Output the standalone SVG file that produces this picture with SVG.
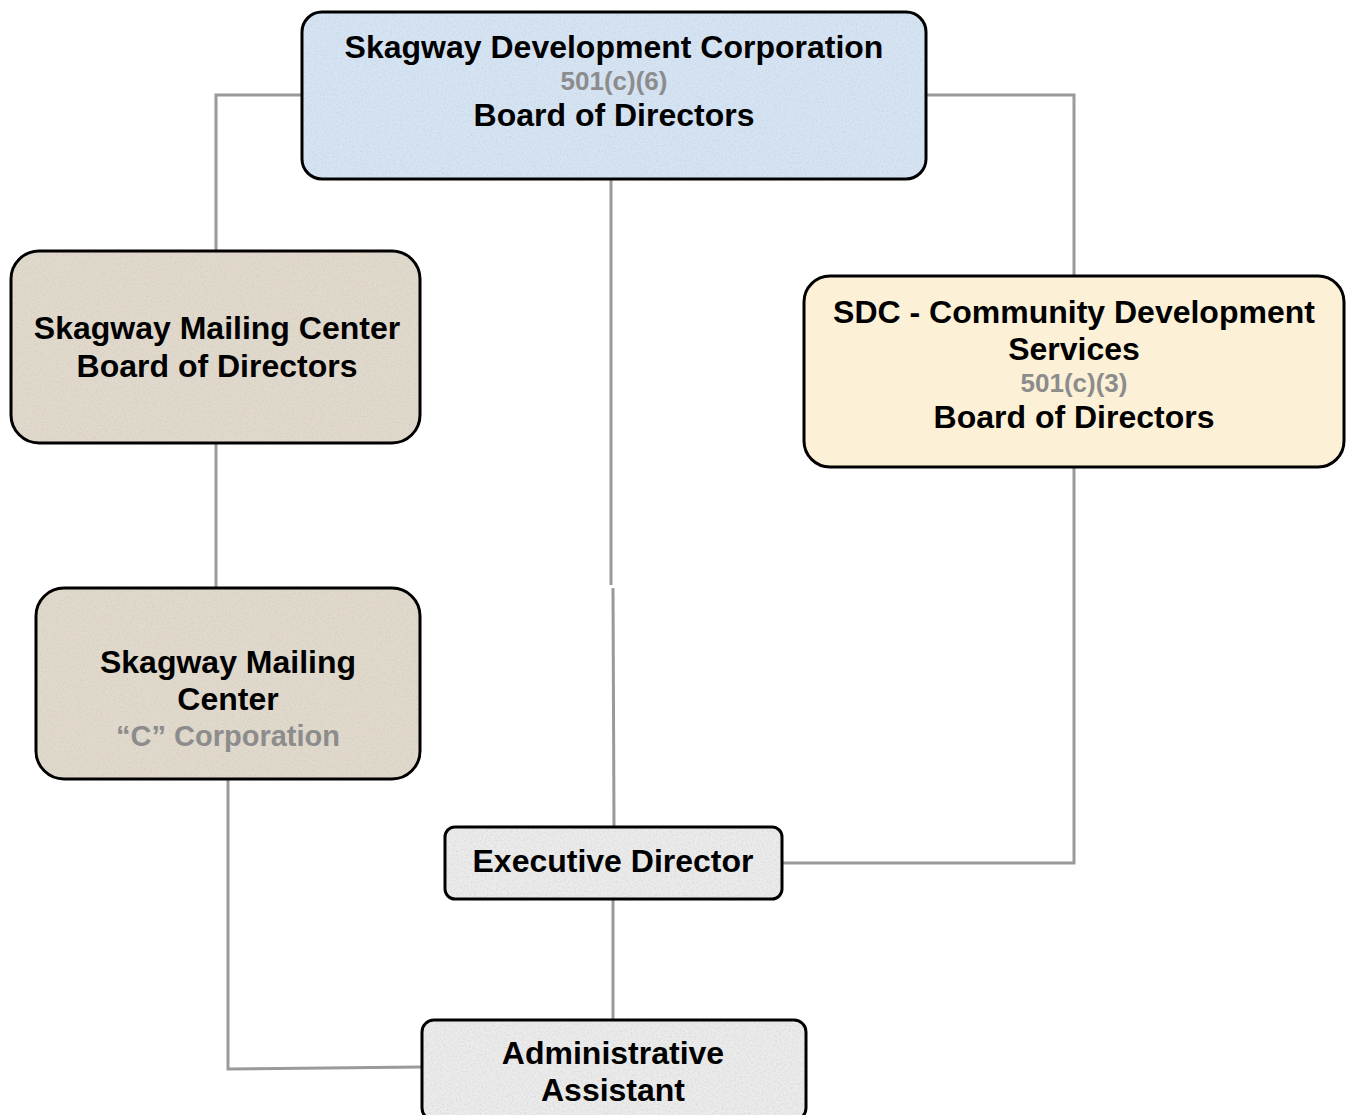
<svg xmlns="http://www.w3.org/2000/svg" width="1351" height="1115" viewBox="0 0 1351 1115">
<defs>
<filter id="grain" x="0" y="0" width="100%" height="100%">
<feTurbulence type="fractalNoise" baseFrequency="0.55" numOctaves="2" seed="3" result="n"/>
<feColorMatrix in="n" type="matrix" values="0 0 0 0 0.5  0 0 0 0 0.5  0 0 0 0 0.5  0 0 0 -2.2 1.25" result="g"/>
<feComposite in="g" in2="SourceGraphic" operator="in"/>
</filter>
</defs>
<style>
.box{stroke:#000;stroke-width:3}
.gr{fill:#fff;filter:url(#grain);opacity:0.35}
.t{font-family:"Liberation Sans",Arial,sans-serif;font-weight:bold;font-size:32px;fill:#000;text-anchor:middle}
.s{font-family:"Liberation Sans",Arial,sans-serif;font-weight:bold;font-size:26px;fill:#8c8c8c;text-anchor:middle}
.c{font-family:"Liberation Sans",Arial,sans-serif;font-weight:bold;font-size:29px;fill:#8c8c8c;text-anchor:middle}
.ln{fill:none;stroke:#9a9a9a;stroke-width:3}
</style>
<rect width="1351" height="1115" fill="#fff"/>
<g id="connectors">
<polyline class="ln" points="302,95 216,95 216,251"/>
<polyline class="ln" points="926,95 1074,95 1074,276"/>
<line class="ln" x1="611" y1="179" x2="611" y2="585"/>
<line class="ln" x1="613" y1="588" x2="614" y2="827"/>
<line class="ln" x1="216" y1="443" x2="216" y2="588"/>
<polyline class="ln" points="228,779 228,1069 421,1067"/>
<polyline class="ln" points="1074,467 1074,863 782,863"/>
<line class="ln" x1="613" y1="899" x2="613" y2="1019"/>
</g>
<g id="sdc">
<rect class="box" x="302" y="12" width="624" height="167" rx="20" fill="#d5e4f4"/>
<rect class="gr" x="304" y="14" width="620" height="163" rx="18"/>
<text class="t" x="614" y="58">Skagway Development Corporation</text>
<text class="s" x="614" y="90">501(c)(6)</text>
<text class="t" x="614" y="126">Board of Directors</text>
</g>
<g id="smc-board">
<rect class="box" x="11" y="251" width="409" height="192" rx="28" fill="#e1d9cb"/>
<rect class="gr" x="13" y="253" width="405" height="188" rx="26"/>
<text class="t" x="217" y="339">Skagway Mailing Center</text>
<text class="t" x="217" y="377">Board of Directors</text>
</g>
<g id="sdc-cds">
<rect class="box" x="804" y="276" width="540" height="191" rx="26" fill="#fcf0d7"/>
<text class="t" x="1074" y="323">SDC - Community Development</text>
<text class="t" x="1074" y="360">Services</text>
<text class="s" x="1074" y="392">501(c)(3)</text>
<text class="t" x="1074" y="428">Board of Directors</text>
</g>
<g id="smc-corp">
<rect class="box" x="36" y="588" width="384" height="191" rx="28" fill="#e1d9cb"/>
<rect class="gr" x="38" y="590" width="380" height="187" rx="26"/>
<text class="t" x="228" y="673">Skagway Mailing</text>
<text class="t" x="228" y="710">Center</text>
<text class="c" x="228" y="746">“C” Corporation</text>
</g>
<g id="exec">
<rect class="box" x="445" y="827" width="337" height="72" rx="10" fill="#ebebeb"/>
<rect class="gr" x="447" y="829" width="333" height="68" rx="8"/>
<text class="t" x="613" y="872">Executive Director</text>
</g>
<g id="admin">
<rect class="box" x="422" y="1020" width="384" height="100" rx="12" fill="#ebebeb"/>
<rect class="gr" x="424" y="1022" width="380" height="96" rx="10"/>
<text class="t" x="613" y="1064">Administrative</text>
<text class="t" x="613" y="1101">Assistant</text>
</g>
</svg>
